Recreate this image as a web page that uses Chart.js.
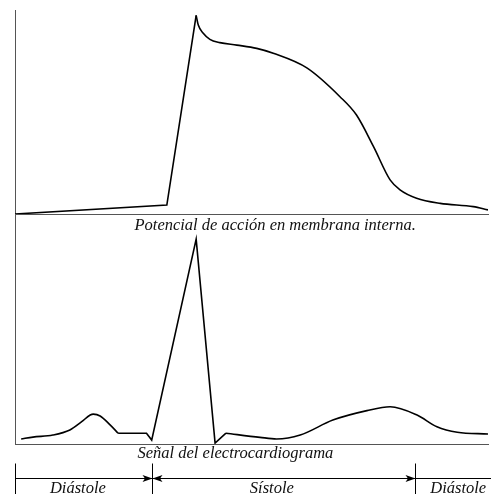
<!DOCTYPE html>
<html>
<head>
<meta charset="utf-8">
<script src="https://cdn.jsdelivr.net/npm/chart.js@4.4.1/dist/chart.umd.min.js"></script>
<style>
  body { margin: 0; background: #fff; }
  #contenedor { position: relative; width: 491px; height: 494px; }
  canvas { position: absolute; left: 0; }
</style>
</head>
<body>
<div id="contenedor">
  <canvas id="potencial" width="491" height="240" style="top:0"></canvas>
  <canvas id="ecg" width="491" height="280" style="top:214px"></canvas>
</div>
<script>
// Potencial de acción: subida recta (despolarización) y caída suave (repolarización)
const tiempoDespol = [0, 32.1, 38.3];
const potDespol = [0, 4.4, 97.4];
const tiempoRepol = [38.3, 38.75, 39.8, 41.2, 43.3, 46.9, 51.1, 54.6, 61.7, 68.7, 72.2, 75.8, 79.3, 81.4, 84.9, 89.9, 96.9, 100];
const potRepol = [97.4, 92.6, 88.6, 85.6, 84.0, 82.8, 81.2, 78.8, 71.6, 57.5, 48.5, 33.0, 16.7, 11.8, 7.7, 5.2, 3.6, 2.0];

// Electrocardiograma: onda P, complejo QRS y onda T
const tiempoP = [1.3, 3.8, 8.0, 11.6, 14.1, 15.9, 16.55, 18.0, 20.1, 21.8];
const ondaP = [2.2, 3.0, 3.9, 6.1, 9.7, 12.6, 13.0, 12.2, 8.3, 4.7];
const tiempoQRS = [21.8, 27.8, 28.9, 38.3, 42.3, 44.6];
const ondaQRS = [4.7, 4.7, 1.7, 89.1, 0.4, 4.7];
const tiempoT = [44.6, 51.8, 55.3, 60.3, 67.2, 74.4, 79.3, 85.0, 89.2, 93.5, 100];
const ondaT = [4.7, 2.9, 2.2, 3.9, 10.4, 14.5, 16.2, 12.6, 7.5, 5.1, 4.35];

// Fases del ciclo cardiaco (límites y centro de cada rótulo, en unidades de tiempo)
const fases = ["Diástole", "Sístole", "Diástole"];
const limitesFases = [0, 29.0, 84.6];
const centroFases = [13.3, 54.3, 93.7];

const fuente = "italic 16.5px 'Liberation Serif'";

function serie(xs, ys, suave) {
  return {
    data: xs.map(function (x, i) { return { x: x, y: ys[i] }; }),
    borderColor: "#000",
    borderWidth: 1.6,
    pointRadius: 0,
    fill: false,
    tension: 0,
    cubicInterpolationMode: suave ? "monotone" : "default"
  };
}

function ejes() {
  const eje = function () {
    return {
      type: "linear", min: 0, max: 100,
      grid: { display: false, drawTicks: false },
      ticks: { display: false },
      border: { color: "#555", width: 1 }
    };
  };
  return { x: eje(), y: eje() };
}

// texto centrado bajo el eje x
const rotulo = {
  id: "rotulo",
  afterDraw(chart, args, opts) {
    const ctx = chart.ctx;
    const x = chart.scales.x.getPixelForValue(opts.centro);
    ctx.save();
    ctx.font = fuente;
    ctx.fillStyle = "#111";
    ctx.textAlign = "center";
    ctx.fillText(opts.texto, x, chart.chartArea.bottom + opts.bajada);
    ctx.restore();
  }
};

function flecha(ctx, x, y, sentido) {
  ctx.beginPath();
  ctx.moveTo(x, y);
  ctx.lineTo(x - sentido * 10, y - 3.5);
  ctx.lineTo(x - sentido * 7.5, y);
  ctx.lineTo(x - sentido * 10, y + 3.5);
  ctx.closePath();
  ctx.fill();
}

// barra de fases bajo el electrocardiograma
const ciclo = {
  id: "ciclo",
  afterDraw(chart) {
    const ctx = chart.ctx;
    const sx = chart.scales.x;
    const yLinea = Math.round(chart.chartArea.bottom + 34) + 0.5;
    ctx.save();
    ctx.strokeStyle = "#000";
    ctx.fillStyle = "#000";
    ctx.lineWidth = 1;
    ctx.beginPath();
    ctx.moveTo(sx.getPixelForValue(0), yLinea);
    ctx.lineTo(chart.width, yLinea);
    limitesFases.forEach(function (t) {
      const px = Math.round(sx.getPixelForValue(t)) + 0.5;
      ctx.moveTo(px, yLinea - 15);
      ctx.lineTo(px, chart.height);
    });
    ctx.stroke();
    const p1 = Math.round(sx.getPixelForValue(limitesFases[1])) + 0.5;
    const p2 = Math.round(sx.getPixelForValue(limitesFases[2])) + 0.5;
    flecha(ctx, p1, yLinea, 1);
    flecha(ctx, p1, yLinea, -1);
    flecha(ctx, p2, yLinea, 1);
    ctx.font = fuente;
    ctx.fillStyle = "#111";
    ctx.textAlign = "center";
    fases.forEach(function (f, i) {
      ctx.fillText(f, sx.getPixelForValue(centroFases[i]), yLinea + 14);
    });
    ctx.restore();
  }
};

new Chart(document.getElementById("potencial"), {
  type: "line",
  data: { datasets: [serie(tiempoDespol, potDespol, false), serie(tiempoRepol, potRepol, true)] },
  options: {
    responsive: false,
    animation: false,
    layout: { padding: { left: 15, top: 10, right: 3, bottom: 26 } },
    scales: ejes(),
    plugins: {
      legend: { display: false },
      tooltip: { enabled: false },
      rotulo: { texto: "Potencial de acción en membrana interna.", centro: 55.0, bajada: 16 }
    }
  },
  plugins: [rotulo]
});

new Chart(document.getElementById("ecg"), {
  type: "line",
  data: { datasets: [serie(tiempoP, ondaP, true), serie(tiempoQRS, ondaQRS, false), serie(tiempoT, ondaT, true)] },
  options: {
    responsive: false,
    animation: false,
    layout: { padding: { left: 15, top: 0, right: 3, bottom: 50 } },
    scales: ejes(),
    plugins: {
      legend: { display: false },
      tooltip: { enabled: false },
      rotulo: { texto: "Señal del electrocardiograma", centro: 46.6, bajada: 14 }
    }
  },
  plugins: [rotulo, ciclo]
});
</script>
</body>
</html>
